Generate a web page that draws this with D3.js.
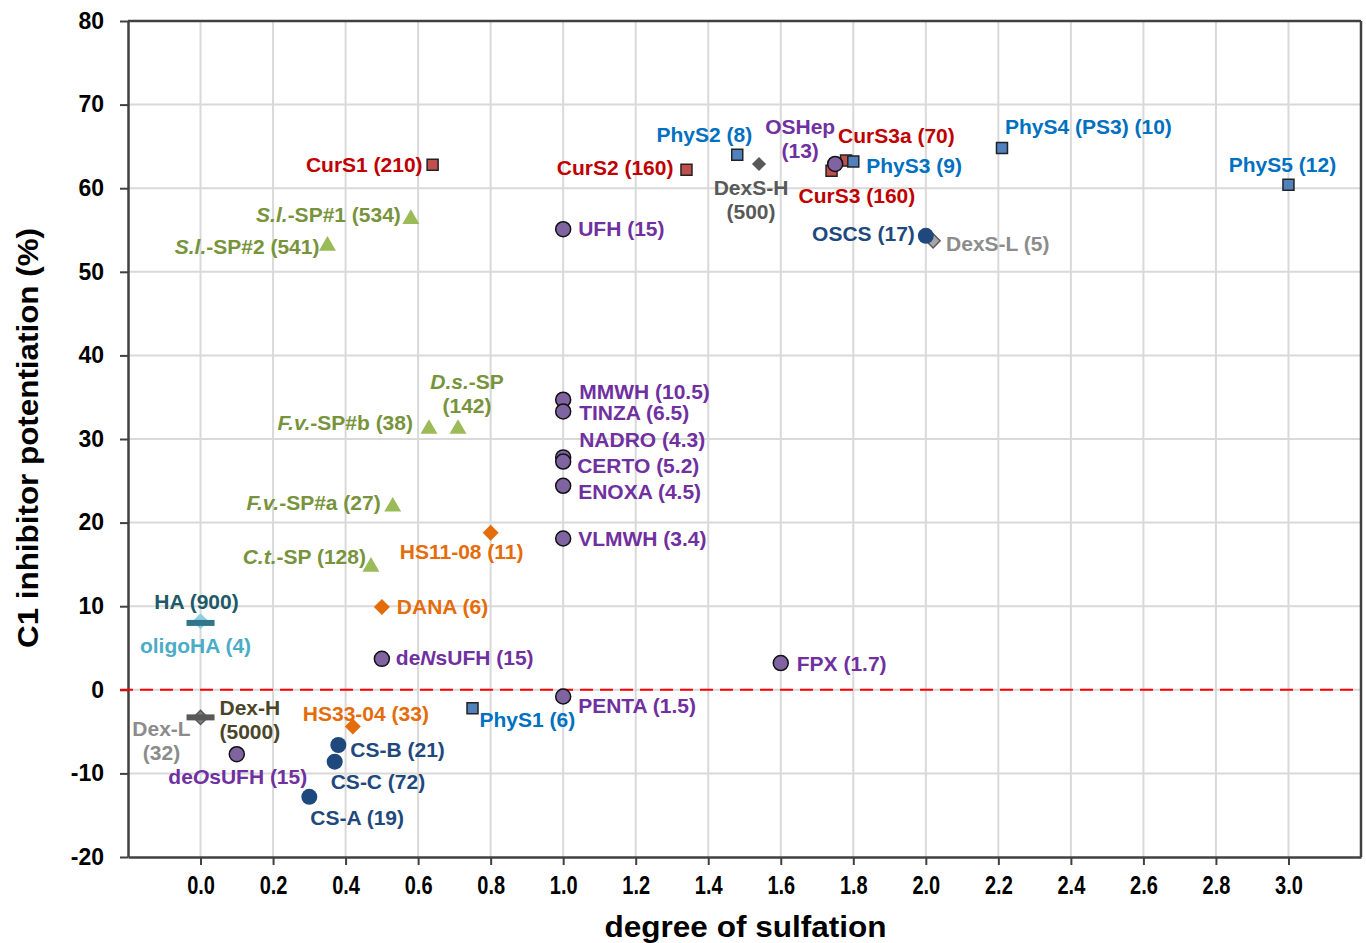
<!DOCTYPE html>
<html>
<head>
<meta charset="utf-8">
<script src="https://cdn.jsdelivr.net/npm/d3@7"></script>
<style>
body { margin: 0; background: #fff; }
text { font-family: "Liberation Sans", Arial, sans-serif; font-weight: bold; }
</style>
</head>
<body>
<div id="chart"></div>
<script>
var width = 1366, height = 943;
var margin = {top: 21, right: 5, bottom: 86, left: 128};

// x = degree of sulfation, y = C1 inhibitor potentiation (%)
var hepNames = ["UFH (15)", "MMWH (10.5)", "TINZA (6.5)", "NADRO (4.3)", "CERTO (5.2)", "ENOXA (4.5)", "VLMWH (3.4)", "PENTA (1.5)", "FPX (1.7)", "de<i>N</i>sUFH (15)", "de<i>O</i>sUFH (15)", "OSHep\n(13)"];
var hepDS = [1.0, 1.0, 1.0, 1.0, 1.0, 1.0, 1.0, 1.0, 1.6, 0.5, 0.1, 1.75];
var hepC1 = [55.1, 34.7, 33.3, 27.8, 27.3, 24.4, 18.1, -0.8, 3.2, 3.7, -7.7, 62.9];

var curNames = ["CurS1 (210)", "CurS2 (160)", "CurS3 (160)", "CurS3a (70)"];
var curDS = [0.64, 1.34, 1.74, 1.78];
var curC1 = [62.8, 62.2, 62.1, 63.3];

var physNames = ["PhyS1 (6)", "PhyS2 (8)", "PhyS3 (9)", "PhyS4 (PS3) (10)", "PhyS5 (12)"];
var physDS = [0.75, 1.48, 1.80, 2.21, 3.0];
var physC1 = [-2.2, 64.0, 63.2, 64.8, 60.4];

var csNames = ["CS-A (19)", "CS-B (21)", "CS-C (72)", "OSCS (17)"];
var csDS = [0.30, 0.38, 0.37, 2.0];
var csC1 = [-12.8, -6.6, -8.6, 54.3];

var hsNames = ["HS11-08 (11)", "DANA (6)", "HS33-04 (33)"];
var hsDS = [0.8, 0.5, 0.42];
var hsC1 = [18.8, 9.9, -4.4];

var spNames = ["<i>S.l.</i>-SP#1 (534)", "<i>S.l.</i>-SP#2 (541)", "<i>F.v.</i>-SP#b (38)", "<i>D.s.</i>-SP\n(142)", "<i>F.v.</i>-SP#a (27)", "<i>C.t.</i>-SP (128)"];
var spDS = [0.58, 0.35, 0.63, 0.71, 0.53, 0.47];
var spC1 = [56.3, 53.1, 31.2, 31.2, 21.9, 14.7];

var dexsHNames = ["DexS-H\n(500)"], dexsHDS = [1.54], dexsHC1 = [62.9];
var dexsLNames = ["DexS-L (5)"], dexsLDS = [2.02], dexsLC1 = [53.7];
var dexLNames = ["Dex-L\n(32)"], dexLDS = [0.0], dexLC1 = [-3.3];
var dexHNames = ["Dex-H\n(5000)"], dexHDS = [0.0], dexHC1 = [-3.3];
var oligoNames = ["oligoHA (4)"], oligoDS = [0.0], oligoC1 = [8.2];
var haNames = ["HA (900)"], haDS = [0.0], haC1 = [8.0];

var xTicks = d3.range(0, 3.01, 0.2);
var yTicks = d3.range(-20, 81, 10);

// label placement: [anchor, dx, dy] in px from the marker
var labelPos = {
	"UFH (15)": ["start", 15, 0],
	"MMWH (10.5)": ["start", 16, -8],
	"TINZA (6.5)": ["start", 16, 2],
	"NADRO (4.3)": ["start", 16, -17],
	"CERTO (5.2)": ["start", 14, 4],
	"ENOXA (4.5)": ["start", 15, 6],
	"VLMWH (3.4)": ["start", 15, 1],
	"PENTA (1.5)": ["start", 15, 10],
	"FPX (1.7)": ["start", 16, 1],
	"de<i>N</i>sUFH (15)": ["start", 14, -1],
	"de<i>O</i>sUFH (15)": ["middle", 1, 23],
	"OSHep\n(13)": ["middle", -35, -37],
	"CurS1 (210)": ["end", -10, 0],
	"CurS2 (160)": ["end", -13, -2],
	"CurS3 (160)": ["start", -33, 25],
	"CurS3a (70)": ["start", -8, -25],
	"PhyS1 (6)": ["start", 7, 12],
	"PhyS2 (8)": ["end", 15, -20],
	"PhyS3 (9)": ["start", 13, 5],
	"PhyS4 (PS3) (10)": ["start", 3, -21],
	"PhyS5 (12)": ["middle", -6, -20],
	"CS-A (19)": ["start", 1, 21],
	"CS-B (21)": ["start", 12, 5],
	"CS-C (72)": ["start", -4, 20],
	"OSCS (17)": ["end", -11, -2],
	"HS11-08 (11)": ["middle", -29, 19],
	"DANA (6)": ["start", 15, 0],
	"HS33-04 (33)": ["start", -50, -13],
	"<i>S.l.</i>-SP#1 (534)": ["end", -10, -4],
	"<i>S.l.</i>-SP#2 (541)": ["end", -8, 1],
	"<i>F.v.</i>-SP#b (38)": ["end", -16, -6],
	"<i>D.s.</i>-SP\n(142)": ["middle", 9, -47],
	"<i>F.v.</i>-SP#a (27)": ["end", -12, -4],
	"<i>C.t.</i>-SP (128)": ["end", -5, -10],
	"DexS-H\n(500)": ["middle", -8, 24],
	"DexS-L (5)": ["start", 13, 3],
	"Dex-L\n(32)": ["middle", -39, 12],
	"Dex-H\n(5000)": ["start", 19, -9],
	"oligoHA (4)": ["middle", -5, 25],
	"HA (900)": ["middle", -4, -21]
};

function rows(names, xs, ys) {
	return names.map(function(n, i) { return {name: n, x: xs[i], y: ys[i]}; });
}

// drawing order = stacking order
var series = [
	{data: rows(curNames, curDS, curC1), marker: "square", fill: "#c0504d", stroke: "#222", text: "#c00000"},
	{data: rows(physNames, physDS, physC1), marker: "square", fill: "#4f81bd", stroke: "#222", text: "#0070c0"},
	{data: rows(dexsHNames, dexsHDS, dexsHC1), marker: "diamond", fill: "#595959", stroke: "none", text: "#595959"},
	{data: rows(dexsLNames, dexsLDS, dexsLC1), marker: "diamond", fill: "#a6a6a6", stroke: "#595959", text: "#8c8c8c"},
	{data: rows(dexLNames, dexLDS, dexLC1), marker: "diamond", fill: "#7f7f7f", stroke: "#595959", text: "#8c8c8c"},
	{data: rows(dexHNames, dexHDS, dexHC1), marker: "dash", fill: "#595959", stroke: "none", text: "#4a452a"},
	{data: rows(oligoNames, oligoDS, oligoC1), marker: "diamond", fill: "#8ccfe0", stroke: "none", text: "#4bacc6", big: true},
	{data: rows(haNames, haDS, haC1), marker: "dash", fill: "#31758a", stroke: "none", text: "#215968"},
	{data: rows(hsNames, hsDS, hsC1), marker: "diamond", fill: "#e46c0a", stroke: "none", text: "#e46c0a", big: true},
	{data: rows(spNames, spDS, spC1), marker: "triangle", fill: "#9bbb59", stroke: "none", text: "#77933c"},
	{data: rows(csNames, csDS, csC1), marker: "bigcircle", fill: "#1f497d", stroke: "none", text: "#1f497d"},
	{data: rows(hepNames, hepDS, hepC1), marker: "circle", fill: "#8064a2", stroke: "#111", text: "#7030a0"}
];

var svg = d3.select("#chart").append("svg").attr("width", width).attr("height", height);

var x = d3.scaleLinear().domain([-0.2, 3.2]).range([margin.left, width - margin.right]);
var y = d3.scaleLinear().domain([-20, 80]).range([height - margin.bottom, margin.top]);

//gridlines
svg.append("g").selectAll("line").data(xTicks).enter().append("line")
	.attr("x1", function(d) { return x(d); }).attr("x2", function(d) { return x(d); })
	.attr("y1", y(-20)).attr("y2", y(80))
	.style("stroke", "#d9d9d9").style("stroke-width", 2);
svg.append("g").selectAll("line").data(yTicks.slice(1, -1)).enter().append("line")
	.attr("x1", x(-0.2)).attr("x2", x(3.2))
	.attr("y1", function(d) { return y(d); }).attr("y2", function(d) { return y(d); })
	.style("stroke", "#d9d9d9").style("stroke-width", 2);

//axes
var xAxis = svg.append("g").attr("transform", "translate(0," + y(-20) + ")")
	.call(d3.axisBottom(x).tickValues(xTicks).tickSize(8).tickSizeOuter(0).tickFormat(d3.format(".1f")));
var yAxis = svg.append("g").attr("transform", "translate(" + x(-0.2) + ",0)")
	.call(d3.axisLeft(y).tickValues(yTicks).tickSize(8).tickSizeOuter(0).tickFormat(function(d) { return String(d); }));
[xAxis, yAxis].forEach(function(a) {
	a.select(".domain").style("stroke", "#404040").style("stroke-width", 2.5);
	a.selectAll(".tick line").style("stroke", "#404040").style("stroke-width", 2);
	a.selectAll(".tick text").style("fill", "#000").style("font-family", "'Liberation Sans', Arial, sans-serif").style("font-weight", "bold");
});
xAxis.selectAll(".tick text").style("font-size", "25px").attr("y", 19).attr("transform", "scale(0.8,1)");
yAxis.selectAll(".tick text").style("font-size", "23px").attr("x", -24);

//frame top/right
svg.append("line").attr("x1", x(-0.2)).attr("x2", x(3.2)).attr("y1", y(80)).attr("y2", y(80))
	.style("stroke", "#404040").style("stroke-width", 2.5);
svg.append("line").attr("x1", x(3.2)).attr("x2", x(3.2)).attr("y1", y(80)).attr("y2", y(-20))
	.style("stroke", "#404040").style("stroke-width", 2.5);

//zero line
svg.append("line").attr("x1", x(-0.2) - 8).attr("x2", x(3.2) - 2).attr("y1", y(0)).attr("y2", y(0))
	.style("stroke", "#ff0000").style("stroke-width", 2).style("stroke-dasharray", "13,7");

//axis titles
svg.append("text").attr("x", (x(-0.2) + x(3.2)) / 2 + 1).attr("y", 937)
	.attr("text-anchor", "middle").style("font-size", "29px")
	.attr("textLength", 282).attr("lengthAdjust", "spacingAndGlyphs")
	.text("degree of sulfation");
svg.append("text").attr("transform", "translate(38," + 438 + ") rotate(-90)")
	.attr("text-anchor", "middle").style("font-size", "29px")
	.attr("textLength", 420).attr("lengthAdjust", "spacingAndGlyphs")
	.text("C1 inhibitor potentiation (%)");

var sym = {
	square: d3.symbol().type(d3.symbolSquare).size(121),
	diamond: d3.symbol().type(d3.symbolSquare).size(100),
	bigdiamond: d3.symbol().type(d3.symbolSquare).size(128),
	triangle: d3.symbol().type(d3.symbolTriangle).size(125)
};

var marks = svg.append("g");
series.forEach(function(s) {
	var g = marks.append("g");
	var pts = g.selectAll(".pt").data(s.data).enter();
	if (s.marker === "circle" || s.marker === "bigcircle") {
		pts.append("circle")
			.attr("cx", function(d) { return x(d.x); }).attr("cy", function(d) { return y(d.y); })
			.attr("r", s.marker === "circle" ? 7.5 : 8)
			.style("fill", s.fill).style("stroke", s.stroke).style("stroke-width", 1.5);
	} else if (s.marker === "dash") {
		pts.append("rect")
			.attr("x", function(d) { return x(d.x) - 14; }).attr("y", function(d) { return y(d.y) - 3; })
			.attr("width", 28).attr("height", 6)
			.style("fill", s.fill);
	} else {
		var key = s.marker === "diamond" && s.big ? "bigdiamond" : s.marker;
		var rot = s.marker === "diamond" ? " rotate(45)" : "";
		pts.append("path")
			.attr("d", sym[key]())
			.attr("transform", function(d) { return "translate(" + x(d.x) + "," + y(d.y) + ")" + rot; })
			.style("fill", s.fill).style("stroke", s.stroke).style("stroke-width", 1.5);
	}
});

//labels
var labels = svg.append("g");
series.forEach(function(s) {
	s.data.forEach(function(d) {
		var p = labelPos[d.name];
		var px = x(d.x) + p[1], py = y(d.y) + p[2];
		var t = labels.append("text").attr("text-anchor", p[0])
			.style("font-size", "21px").style("fill", s.text);
		d.name.split("\n").forEach(function(line, li) {
			var parts = line.split(/(<i>.*?<\/i>)/).filter(function(q) { return q.length; });
			parts.forEach(function(q, qi) {
				var ts = t.append("tspan");
				if (qi === 0) ts.attr("x", px).attr("y", py + li * 24 + 7);
				if (q.indexOf("<i>") === 0) {
					ts.style("font-style", "italic").text(q.replace(/<\/?i>/g, ""));
				} else {
					ts.text(q);
				}
			});
		});
	});
});
</script>
</body>
</html>
